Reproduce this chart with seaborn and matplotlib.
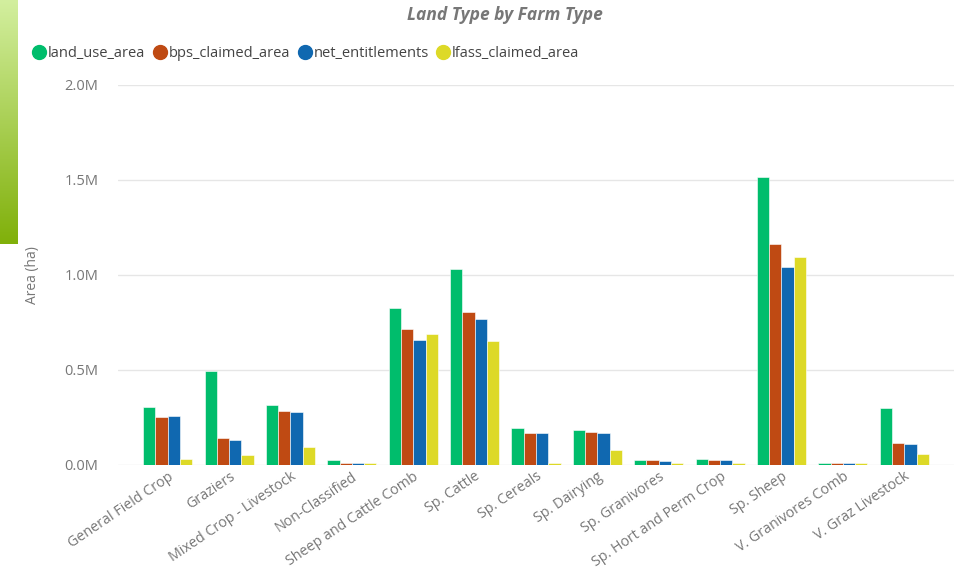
import numpy as np
import pandas as pd
import matplotlib
import matplotlib.pyplot as plt
import seaborn as sns
from matplotlib.ticker import FuncFormatter
from matplotlib.lines import Line2D

matplotlib.use('Agg')

farm_types = [
    "General Field Crop", "Graziers", "Mixed Crop - Livestock", "Non-Classified",
    "Sheep and Cattle Comb", "Sp. Cattle", "Sp. Cereals", "Sp. Dairying",
    "Sp. Granivores", "Sp. Hort and Perm Crop", "Sp. Sheep",
    "V. Granivores Comb", "V. Graz Livestock",
]
land_use_area = [305000, 496000, 314000, 26000, 825000, 1030000, 193000, 183000,
                 26000, 30000, 1517000, 11000, 298000]
bps_claimed_area = [251000, 140000, 284000, 9000, 716000, 804000, 168000, 174000,
                    25000, 25000, 1163000, 10000, 116000]
net_entitlements = [258000, 130000, 277000, 9000, 656000, 767000, 168000, 168000,
                    21000, 25000, 1044000, 10000, 109000]
lfass_claimed_area = [30000, 51000, 96000, 9000, 688000, 651000, 8000, 77000,
                      11000, 8000, 1096000, 9000, 58000]

series = ["land_use_area", "bps_claimed_area", "net_entitlements", "lfass_claimed_area"]
colors = ["#00BD6C", "#BF4A13", "#1068B0", "#DDD927"]

df = pd.DataFrame({
    "farm_type": farm_types * 4,
    "measure": np.repeat(series, len(farm_types)),
    "area": land_use_area + bps_claimed_area + net_entitlements + lfass_claimed_area,
})

sns.set_style("white")
plt.rcParams['font.family'] = ['Open Sans', 'DejaVu Sans']
grey = '#777777'

fig = plt.figure(figsize=(9.64, 5.74), dpi=100)
ax = fig.add_axes([0.1224, 0.19, 0.8672, 0.662])

sns.barplot(data=df, x="farm_type", y="area", hue="measure", hue_order=series,
            palette=colors, width=0.8, gap=0, ax=ax, legend=False,
            edgecolor='white', linewidth=0.4, saturation=1)

ax.set_ylim(0, 2000000)
ax.set_xlim(-0.81, len(farm_types) - 1 + 0.81)
ax.set_yticks([0, 500000, 1000000, 1500000, 2000000])
ax.yaxis.set_major_formatter(FuncFormatter(lambda v, p: f"{v / 1e6:.1f}M"))
ax.grid(axis='y', color='#e6e6e6', linewidth=1)
ax.set_axisbelow(True)
for s in ax.spines.values():
    s.set_visible(False)
ax.tick_params(axis='y', colors=grey, labelsize=10.5, length=0, pad=14)
ax.tick_params(axis='x', colors=grey, labelsize=10.3, length=0, pad=3)
plt.setp(ax.get_xticklabels(), rotation=34, ha='right', rotation_mode='anchor')
ax.set_xlabel("")
ax.set_ylabel("Area (ha)", color=grey, fontsize=10, labelpad=18)

fig.text(0.524, 0.973, "Land Type by Farm Type", ha='center', va='center',
         fontsize=12.5, fontweight='bold', fontstyle='italic', color=grey)

handles = [Line2D([0], [0], marker='o', linestyle='', markersize=10,
                  markerfacecolor=c, markeredgecolor=c) for c in colors]
fig.legend(handles, series, loc='center left', bbox_to_anchor=(0.018, 0.906),
           ncol=4, frameon=False, fontsize=10.5, handletextpad=0.0,
           columnspacing=0.4, labelcolor='#444444', handlelength=1.2)

# green gradient tab on the left edge
tab = fig.add_axes([0.0, 0.575, 0.018, 0.425])
grad = np.linspace(0, 1, 256).reshape(-1, 1)
cmap = matplotlib.colors.LinearSegmentedColormap.from_list("g", ["#d3ef9f", "#80b00a"])
tab.imshow(grad, aspect='auto', cmap=cmap)
tab.set_axis_off()

fig.savefig("out.png", dpi=100)
